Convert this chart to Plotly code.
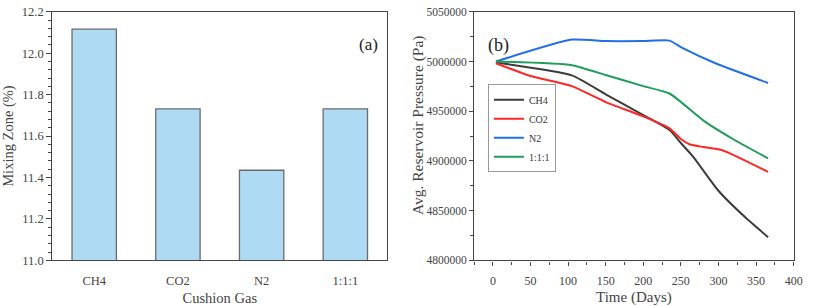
import plotly.graph_objects as go

# ---------------- data ----------------
gas_categories = ["CH4", "CO2", "N2", "1:1:1"]
mixing_zone = [12.116, 11.731, 11.435, 11.731]

ch4_days = [4, 105, 150, 200, 235, 250, 266, 300, 336, 366]
ch4_pressure = [4998900, 4986000, 4967000, 4946000, 4931000, 4918000, 4904500, 4870000, 4843000, 4823300]

co2_days = [4, 50, 105, 150, 200, 235, 250, 262, 280, 303, 314, 366]
co2_pressure = [4998200, 4985400, 4975200, 4959200, 4944800, 4932700, 4922000, 4916500, 4914000, 4911200, 4908100, 4889000]

n2_days = [4, 105, 150, 200, 235, 252, 296, 366]
n2_pressure = [5000000, 5022000, 5020500, 5020500, 5021000, 5013600, 4998200, 4978400]

mix_days = [4, 105, 150, 200, 235, 281, 322, 366]
mix_pressure = [5000000, 4996300, 4986400, 4975200, 4967800, 4940000, 4920800, 4902600]

series = [
    ("CH4", ch4_days, ch4_pressure, "#3c3c3c"),
    ("CO2", co2_days, co2_pressure, "#ff2626"),
    ("N2", n2_days, n2_pressure, "#1e6fe8"),
    ("1:1:1", mix_days, mix_pressure, "#1f9e5a"),
]

W, H = 813, 306


def px(x):
    return x / W


def py(y):
    return 1 - y / H


SERIF = "Liberation Serif"
TXT = "#444"

fig = go.Figure()

fig.add_trace(go.Bar(
    x=gas_categories, y=mixing_zone, width=0.53,
    marker=dict(color="#afdaf3", line=dict(color="#6b6b6b", width=1.3)),
    xaxis="x", yaxis="y", showlegend=False,
))

for name, d, p, c in series:
    fig.add_trace(go.Scatter(
        x=d, y=p, name=name, mode="lines",
        line=dict(color=c, width=2, shape="spline", smoothing=0.5),
        xaxis="x2", yaxis="y2",
    ))

ydom = [py(265.5), py(5)]
axcommon = dict(showgrid=False, zeroline=False, showline=True, linecolor="#444",
                linewidth=1.3, mirror=True, ticklabeloverflow="allow")

fig.update_layout(
    width=W, height=H,
    margin=dict(l=0, r=0, t=0, b=0),
    paper_bgcolor="white", plot_bgcolor="white",
    xaxis=dict(domain=[px(52), px(391)], range=[-0.5, 3.5], anchor="y",
               ticks="", ticklabelstandoff=8, tickfont=dict(family=SERIF, size=12.5, color=TXT),
               title=dict(text="Cushion Gas", font=dict(family=SERIF, size=14.5, color=TXT), standoff=6),
               **axcommon),
    yaxis=dict(domain=ydom, range=[10.99999, 12.20001], tick0=11.0, dtick=0.2, tickformat=".1f", anchor="x",
               ticks="outside", ticklen=5, tickcolor="#444",
               minor=dict(dtick=0.04, ticks="outside", ticklen=3, tickcolor="#444"),
               tickfont=dict(family=SERIF, size=12.5, color=TXT),
               title=dict(text="Mixing Zone (%)", font=dict(family=SERIF, size=14.5, color=TXT), standoff=12),
               **axcommon),
    xaxis2=dict(domain=[px(479), px(802.5)], range=[-25, 400], dtick=50, anchor="y2",
                ticks="outside", ticklen=4, tickcolor="#444", ticklabelstandoff=5,
                minor=dict(dtick=25, ticks="outside", ticklen=3, tickcolor="#444"),
                tickfont=dict(family=SERIF, size=12, color=TXT),
                title=dict(text="Time (Days)", font=dict(family=SERIF, size=15, color=TXT), standoff=4),
                **axcommon),
    yaxis2=dict(domain=ydom, range=[4800000, 5050000], dtick=50000, tickformat="d", anchor="x2",
                ticks="outside", ticklen=4, tickcolor="#444",
                minor=dict(dtick=25000, ticks="outside", ticklen=3, tickcolor="#444"),
                tickfont=dict(family=SERIF, size=11.5, color=TXT),
                **axcommon),
    legend=dict(x=px(493), y=py(81), xanchor="left", yanchor="top",
                bgcolor="white", bordercolor="#999", borderwidth=1,
                font=dict(family=SERIF, size=10, color="#333"),
                tracegroupgap=0, itemwidth=30),
    annotations=[
        dict(text="(a)", x=px(372), y=py(27), xref="paper", yref="paper",
             showarrow=False, font=dict(family=SERIF, size=17, color="#222")),
        dict(text="(b)", x=px(504), y=py(27), xref="paper", yref="paper",
             showarrow=False, font=dict(family=SERIF, size=18, color="#222")),
        dict(text="Avg. Reservoir Pressure (Pa)", textangle=-90,
             x=px(423), y=py(124), xref="paper", yref="paper",
             showarrow=False, font=dict(family=SERIF, size=15.5, color=TXT)),
    ],
)

fig.write_html("out.html", config={"displayModeBar": False},
               post_script="document.body.style.margin='0px';")
